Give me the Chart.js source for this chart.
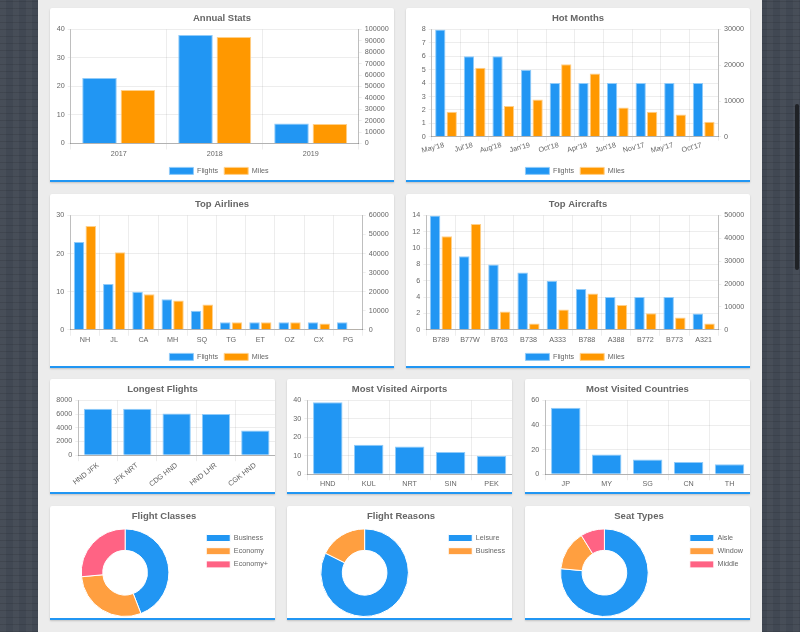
<!DOCTYPE html>
<html>
<head>
<meta charset="utf-8">
<title>Flight stats</title>
<script src="https://cdn.jsdelivr.net/npm/chart.js@4/dist/chart.umd.min.js"></script>
<style>
  html, body { margin: 0; height: 632px; overflow: hidden; }
  body {
    position: relative;
    background-color: #414853;
    background-image:
      repeating-linear-gradient(0deg, rgba(0,0,0,0.10) 0 1px, transparent 1px 7px),
      repeating-linear-gradient(90deg, rgba(255,255,255,0.03) 0 6px, transparent 6px 13px);
  }
  #page { position: absolute; left: 38px; top: 0; width: 724px; height: 632px; background: #ececec; }
  #scrollbar { position: absolute; left: 795px; top: 104px; width: 4px; height: 166px; border-radius: 2px; background: #1f2226; }
  .card {
    position: absolute;
    box-sizing: content-box;
    background: #fff;
    border-bottom: 2px solid #2196f3;
    border-radius: 2px 2px 0 0;
    box-shadow: 0 1px 2px rgba(0,0,0,0.18);
  }
  canvas { display: block; }
</style>
</head>
<body>
<div id="page"></div>
<div id="scrollbar"></div>
<script>
const blue = '#2196f3';
const orange = '#ff9800';
const blueEdge = '#90cbf9';
const orangeEdge = '#ffd08a';
const pieColors = ['#2196f3', '#ff9f40', '#ff6384'];

const annualLabels = ['2017', '2018', '2019'];
const annualFlights = [23, 38, 7];
const annualMiles = [46800, 93300, 17000];

const monthLabels = ["May'18", "Jul'18", "Aug'18", "Jan'19", "Oct'18", "Apr'18", "Jun'18", "Nov'17", "May'17", "Oct'17"];
const monthFlights = [8, 6, 6, 5, 4, 4, 4, 4, 4, 4];
const monthMiles = [7000, 19300, 8600, 10400, 20250, 17700, 8150, 7000, 6200, 4200];

const airlineLabels = ['NH', 'JL', 'CA', 'MH', 'SQ', 'TG', 'ET', 'OZ', 'CX', 'PG'];
const airlineFlights = [23, 12, 10, 8, 5, 2, 2, 2, 2, 2];
const airlineMiles = [54400, 40700, 18600, 15400, 13300, 3900, 3900, 3900, 3300, 150];

const aircraftLabels = ['B789', 'B77W', 'B763', 'B738', 'A333', 'B788', 'A388', 'B772', 'B773', 'A321'];
const aircraftFlights = [14, 9, 8, 7, 6, 5, 4, 4, 4, 2];
const aircraftMiles = [40900, 46200, 8000, 2800, 8900, 15900, 10800, 7200, 5400, 2800];

const longestLabels = ['HND JFK', 'JFK NRT', 'CDG HND', 'HND LHR', 'CGK HND'];
const longestMiles = [6780, 6780, 6100, 6000, 3600];

const airportLabels = ['HND', 'KUL', 'NRT', 'SIN', 'PEK'];
const airportVisits = [39, 16, 15, 12, 10];

const countryLabels = ['JP', 'MY', 'SG', 'CN', 'TH'];
const countryVisits = [54, 16, 12, 10, 8];

const classLabels = ['Business', 'Economy', 'Economy+'];
const classCounts = [30, 20, 18];

const reasonLabels = ['Leisure', 'Business'];
const reasonCounts = [56, 12];

const seatLabels = ['Aisle', 'Window', 'Middle'];
const seatCounts = [52, 10, 6];

Chart.defaults.font.family = '"Liberation Sans", Helvetica, Arial, sans-serif';
Chart.defaults.font.size = 7.2;
Chart.defaults.color = '#666';
Chart.defaults.animation = false;

// nudge the bottom legend left, the old layout left room after the last item
const legendNudge = {
  id: 'legendNudge',
  afterLayout(chart) {
    chart.legend.left -= 3;
    chart.legend.right -= 3;
  }
};

function addCard(x, y, w, h) {
  const card = document.createElement('div');
  card.className = 'card';
  card.style.cssText = `left:${x}px;top:${y}px;width:${w}px;height:${h}px`;
  const canvas = document.createElement('canvas');
  canvas.width = w;
  canvas.height = h;
  card.appendChild(canvas);
  document.body.appendChild(card);
  return canvas;
}

function titleOpts(text, bottom) {
  return {
    display: true,
    text: text,
    color: '#666',
    font: { size: 9.5, weight: 'bold' },
    padding: { top: 4.5, bottom: bottom }
  };
}

function yAxis(position, max, step, width, onChart) {
  return {
    position: position,
    min: 0,
    max: max,
    border: { color: 'rgba(0,0,0,0.2)' },
    grid: { color: 'rgba(0,0,0,0.07)', tickLength: 3, drawOnChartArea: onChart },
    ticks: { stepSize: step, padding: 3, autoSkip: false, callback: (v) => String(v) },
    afterFit: (scale) => { scale.width = width; }
  };
}

function xAxis(axes) {
  const rotation = axes.rotation || 0;
  return {
    border: { color: 'rgba(0,0,0,0.25)' },
    grid: { color: 'rgba(0,0,0,0.07)', tickLength: axes.tickLength || 6 },
    ticks: { minRotation: rotation, maxRotation: rotation, autoSkip: false, padding: 0, labelOffset: axes.labelOffset || 0 },
    afterFit: (scale) => { scale.height = axes.xHeight; }
  };
}

function legendOpts(position) {
  return {
    position: position,
    align: position === 'right' ? 'start' : 'center',
    fullSize: position !== 'right',
    labels: { boxWidth: 24, boxHeight: 7, padding: 6, font: { size: 7.2 } }
  };
}

function createDualChart(canvas, title, labels, flights, miles, axes) {
  return new Chart(canvas, {
    type: 'bar',
    data: {
      labels: labels,
      datasets: [
        { label: 'Flights', data: flights, yAxisID: 'y', backgroundColor: blue, borderColor: blueEdge, borderWidth: 1 },
        { label: 'Miles', data: miles, yAxisID: 'y1', backgroundColor: orange, borderColor: orangeEdge, borderWidth: 1 }
      ]
    },
    plugins: [legendNudge],
    options: {
      responsive: false,
      layout: { padding: { bottom: -4.5 } },
      plugins: { title: titleOpts(title, 5.5), legend: legendOpts('bottom') },
      scales: {
        x: xAxis(axes),
        y: yAxis('left', axes.leftMax, axes.leftStep, axes.leftWidth, true),
        y1: yAxis('right', axes.rightMax, axes.rightStep, axes.rightWidth, false)
      }
    }
  });
}

function createSingleChart(canvas, title, labels, values, axes) {
  return new Chart(canvas, {
    type: 'bar',
    data: {
      labels: labels,
      datasets: [{ label: title, data: values, backgroundColor: blue, borderColor: blueEdge, borderWidth: 1 }]
    },
    options: {
      responsive: false,
      plugins: { title: titleOpts(title, 5.5), legend: { display: false } },
      scales: {
        x: xAxis(axes),
        y: yAxis('left', axes.max, axes.step, axes.leftWidth, true)
      }
    }
  });
}

function createDoughnut(canvas, title, labels, values) {
  return new Chart(canvas, {
    type: 'doughnut',
    data: {
      labels: labels,
      datasets: [{ data: values, backgroundColor: pieColors.slice(0, values.length), borderColor: '#fff', borderWidth: 1 }]
    },
    options: {
      responsive: false,
      cutout: '51%',
      layout: { padding: { right: -3, bottom: 1 } },
      plugins: { title: titleOpts(title, 6.5), legend: legendOpts('right') }
    }
  });
}

createDualChart(addCard(50, 8, 344, 172), 'Annual Stats', annualLabels, annualFlights, annualMiles,
  { xHeight: 17.8, leftMax: 40, leftStep: 10, leftWidth: 20.7, rightMax: 100000, rightStep: 10000, rightWidth: 35.3 });
createDualChart(addCard(406, 8, 344, 172), 'Hot Months', monthLabels, monthFlights, monthMiles,
  { xHeight: 24.5, rotation: 15, tickLength: 4, labelOffset: -2, leftMax: 8, leftStep: 1, leftWidth: 25.7, rightMax: 30000, rightStep: 10000, rightWidth: 32 });
createDualChart(addCard(50, 194, 344, 172), 'Top Airlines', airlineLabels, airlineFlights, airlineMiles,
  { xHeight: 17.5, leftMax: 30, leftStep: 10, leftWidth: 20.3, rightMax: 60000, rightStep: 10000, rightWidth: 31.3 });
createDualChart(addCard(406, 194, 344, 172), 'Top Aircrafts', aircraftLabels, aircraftFlights, aircraftMiles,
  { xHeight: 17.5, leftMax: 14, leftStep: 2, leftWidth: 20.3, rightMax: 50000, rightStep: 10000, rightWidth: 31.7 });

createSingleChart(addCard(50, 379, 225, 112.5), 'Longest Flights', longestLabels, longestMiles,
  { xHeight: 35.8, rotation: 38, max: 8000, step: 2000, leftWidth: 28.3 });
createSingleChart(addCard(287, 379, 225, 112.5), 'Most Visited Airports', airportLabels, airportVisits,
  { xHeight: 16.8, max: 40, step: 10, leftWidth: 20.3 });
createSingleChart(addCard(525, 379, 225, 112.5), 'Most Visited Countries', countryLabels, countryVisits,
  { xHeight: 16.8, max: 60, step: 20, leftWidth: 20.3 });

createDoughnut(addCard(50, 506, 225, 112), 'Flight Classes', classLabels, classCounts);
createDoughnut(addCard(287, 506, 225, 112), 'Flight Reasons', reasonLabels, reasonCounts);
createDoughnut(addCard(525, 506, 225, 112), 'Seat Types', seatLabels, seatCounts);
</script>
</body>
</html>
